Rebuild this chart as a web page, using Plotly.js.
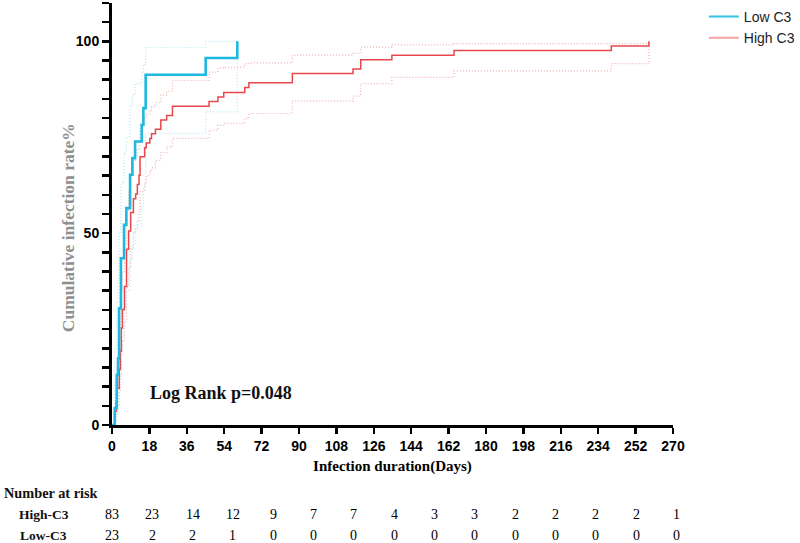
<!DOCTYPE html>
<html>
<head>
<meta charset="utf-8">
<script src="https://cdn.plot.ly/plotly-3.0.1.min.js"></script>
<style>
  html, body { margin: 0; padding: 0; background: #fff; }
  #chart { width: 800px; height: 543px; }
</style>
</head>
<body>
<div id="chart"></div>
<script>
// Cumulative infection (1 - KM) by complement C3 group, with 95% CI bands.

// Low C3 group (n = 23)
const lowDays  = [0, 1.3, 2.3, 2.9, 3.4, 4.3, 5.8, 6.9, 8.7, 9.8, 11.1, 14.3, 15.1, 16.2, 45.1, 60.3];
const lowRate  = [0, 4.35, 13.04, 17.39, 30.43, 43.48, 52.17, 56.52, 65.22, 69.57, 73.91, 78.26, 82.61, 91.30, 95.65, 100];
const lowUpper = [0, 20, 32, 38, 50, 63, 71, 75, 83, 86, 89, 92, 94, 98.4, 100, 100];
const lowLower = [0, 0.6, 3, 5, 12, 23, 31, 35, 43, 47, 52, 57, 62, 76, 81.6, 100];

// High C3 group (n = 83)
const highDays  = [0, 1.5, 2.0, 2.5, 3.5, 4.0, 4.5, 5.0, 6.0, 7.0, 8.0, 9.0, 10.3, 11.4, 12.2, 13.0, 13.5, 15.7, 16.5, 18.2, 19.0, 20.9, 23.5, 26.3, 29.1, 46.7, 51.0, 53.8, 63.9, 65.9, 86.8, 116.0, 119.7, 134.7, 164.6, 240.3, 258.4];
const highRate  = [0, 3.6, 6.0, 9.6, 14.5, 19.3, 25.3, 30.1, 36.1, 45.8, 50.6, 55.4, 59.0, 60.2, 62.7, 65.1, 69.9, 72.3, 73.5, 74.7, 75.9, 77.1, 79.5, 80.7, 83.1, 84.3, 85.5, 86.7, 88.0, 89.2, 91.6, 92.8, 95.2, 96.4, 97.6, 98.8, 100];
const highUpper = [0, 8, 11, 16, 22, 28, 35, 40, 47, 56, 61, 65, 69, 70, 72, 74, 78, 80, 81, 82, 83, 84, 86, 87, 89.8, 92, 93.1, 93.3, 94.2, 94.4, 96.4, 96.9, 98.5, 99.1, 99.4, 99.4, 100];
const highLower = [0, 1, 2.5, 5, 9, 13, 18, 22, 27, 36, 41, 46, 50, 51, 53, 56, 61, 63, 65, 66, 67, 69, 71, 72.5, 74.7, 76.8, 78.1, 78.6, 79.9, 81.2, 84.4, 85.7, 89, 90.6, 92.3, 94.2, 100];

// Axis ticks
const xTicks = [0, 18, 36, 54, 72, 90, 108, 126, 144, 162, 180, 198, 216, 234, 252, 270];
const yTicks = [0, 5, 10, 15, 20, 25, 30, 35, 40, 45, 50, 55, 60, 65, 70, 75, 80, 85, 90, 95, 100, 105, 110];
const yLabeled = [0, 50, 100];

// Number-at-risk table
const riskHigh = [83, 23, 14, 12, 9, 7, 7, 4, 3, 3, 2, 2, 2, 2, 1];
const riskLow  = [23, 2, 2, 1, 0, 0, 0, 0, 0, 0, 0, 0, 0, 0, 0];
const riskRows = ["High-C3", "Low-C3"];
const riskSpan = 1.006;  // table columns run a little past the last axis tick (paper units)

const BLUE = "#1db9de", RED = "#e8474c";
const BLUE_CI = "#b4e8f4", RED_CI = "#f3b0b0";

function step(x, y, color, width, dash) {
  return { x: x, y: y, type: "scatter", mode: "lines", line: { shape: "hv", color: color, width: width, dash: dash || "solid" }, showlegend: false, hoverinfo: "skip" };
}

const traces = [
  step(highDays, highUpper, RED_CI, 1.2, "1px,2px"),
  step(highDays, highLower, RED_CI, 1.2, "1px,2px"),
  step(lowDays, lowUpper, BLUE_CI, 1.2, "1px,2px"),
  step(lowDays, lowLower, BLUE_CI, 1.2, "1px,2px"),
  step(highDays, highRate, RED, 1.5),
  step(lowDays, lowRate, BLUE, 2.6),
  { x: [null], y: [null], type: "scatter", mode: "lines", name: "Low C3", line: { color: "#35c3e6", width: 2 }, showlegend: true },
  { x: [null], y: [null], type: "scatter", mode: "lines", name: "High C3", line: { color: "#f5a3a3", width: 2 }, showlegend: true }
];

const serif = "Liberation Serif, Times New Roman, serif";
const annotations = [
  { text: "<b>Log Rank p=0.048</b>", xref: "x", yref: "y", x: 17.3, y: 8.3, xanchor: "left", yanchor: "middle", showarrow: false, font: { family: serif, size: 18, color: "#111" } },
  { text: "<b>Cumulative infection rate%</b>", xref: "paper", yref: "paper", x: -0.078, y: 0.467, xanchor: "center", yanchor: "middle", textangle: -90, showarrow: false, font: { family: serif, size: 17.5, color: "#8f8f8f" } },
  { text: "<b>Number at risk</b>", xref: "paper", yref: "paper", x: -0.196, y: -0.161, xanchor: "left", yanchor: "middle", showarrow: false, font: { family: serif, size: 14.3, color: "#111" } }
];
const rowY = [-0.212, -0.262];
[riskHigh, riskLow].forEach(function (row, r) {
  annotations.push({ text: "<b>" + riskRows[r] + "</b>", xref: "paper", yref: "paper", x: -0.122, y: rowY[r], xanchor: "center", yanchor: "middle", showarrow: false, font: { family: serif, size: 13.5, color: "#111" } });
  row.forEach(function (v, i) {
    annotations.push({ text: String(v), xref: "paper", yref: "paper", x: i * riskSpan / (row.length - 1), y: rowY[r], xanchor: "center", yanchor: "middle", showarrow: false, font: { family: serif, size: 14, color: "#000" } });
  });
});

const layout = {
  width: 800, height: 543,
  margin: { l: 112, r: 127, t: 3, b: 118, autoexpand: false },
  paper_bgcolor: "#fff", plot_bgcolor: "#fff",
  showlegend: true,
  legend: { x: 1.055, y: 1.005, xanchor: "left", yanchor: "top", font: { family: "Liberation Sans, Arial, sans-serif", size: 14, color: "#222" }, bgcolor: "rgba(0,0,0,0)" },
  xaxis: {
    range: [0, 270], tickvals: xTicks, ticktext: xTicks.map(String),
    showgrid: false, zeroline: false, showline: true, linecolor: "#000", linewidth: 3,
    ticks: "outside", ticklen: 6, tickwidth: 2.5, tickcolor: "#000",
    tickfont: { family: "Liberation Sans, Arial, sans-serif", size: 14, color: "#000", weight: "bold" },
    title: { text: "<b>Infection duration(Days)</b>", font: { family: serif, size: 15, color: "#000" }, standoff: 8 }
  },
  yaxis: {
    range: [0, 110], tickvals: yTicks, ticktext: yTicks.map(function (v) { return yLabeled.indexOf(v) >= 0 ? String(v) : ""; }),
    showgrid: false, zeroline: false, showline: true, linecolor: "#000", linewidth: 3,
    ticks: "outside", ticklen: 7, tickwidth: 2.5, tickcolor: "#000",
    tickfont: { family: "Liberation Sans, Arial, sans-serif", size: 14, color: "#000", weight: "bold" }
  },
  annotations: annotations
};

Plotly.newPlot("chart", traces, layout, { staticPlot: true, displayModeBar: false });
</script>
</body>
</html>
